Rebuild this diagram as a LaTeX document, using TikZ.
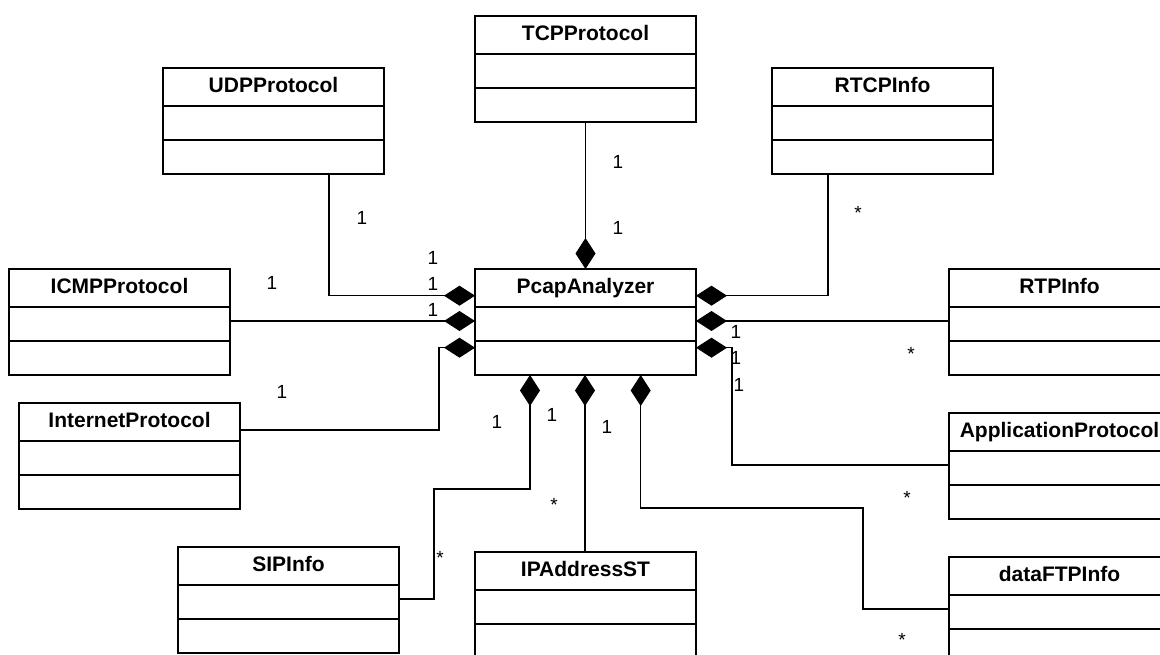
\documentclass[tikz,border=0pt]{standalone}
\usepackage{fontspec}
\setmainfont{Liberation Sans}
\usetikzlibrary{arrows.meta,calc}

\tikzset{
  classbox/.style={draw, line width=1.6pt, minimum width=221pt, minimum height=106pt,
                   inner sep=0pt, outer sep=0pt},
  classtitle/.style={minimum height=38pt, inner sep=0pt, text height=15pt, text depth=4pt,
                     font=\fontsize{21}{24}\selectfont\bfseries},
  classrule/.style={line width=1.6pt},
  comp/.style={line width=1.1pt, -{Diamond[length=31pt,width=20pt]}},
  mult/.style={inner sep=0pt, font=\fontsize{19}{22}\selectfont},
}

% UML class box: name, left x, top y, title; two empty compartments below the title
\newcommand\umlclass[4]{%
  \node[classbox, anchor=north west] (#1) at (#2,#3) {};
  \node[classtitle, anchor=north] (#1-t) at (#1.north) {#4};
  \draw[classrule] ($(#1.north west)+(0,38)$) -- ($(#1.north east)+(0,38)$);
  \draw[classrule] ($(#1.north west)+(0,72)$) -- ($(#1.north east)+(0,72)$);
}

\begin{document}
\begin{tikzpicture}[x=1pt, y=-1pt]
\useasboundingbox (0,0) rectangle (1160,655);
\clip (0,0) rectangle (1160,655);

% classes
\umlclass{tcp}{475}{16}{TCPProtocol}
\umlclass{udp}{163}{68}{UDPProtocol}
\umlclass{rtcp}{772}{68}{RTCPInfo}
\umlclass{icmp}{9}{269}{ICMPProtocol}
\umlclass{pcap}{475}{269}{PcapAnalyzer}
\umlclass{rtp}{949}{269}{RTPInfo}
\umlclass{inet}{19}{403}{InternetProtocol}
\umlclass{app}{949}{413}{ApplicationProtocol}
\umlclass{sip}{178}{547}{SIPInfo}
\umlclass{ipa}{475}{552}{IPAddressST}
\umlclass{ftp}{949}{557}{dataFTPInfo}

% attachment points on PcapAnalyzer
\coordinate (pL1) at ($(pcap.north west)+(0,26.7)$);
\coordinate (pL2) at ($(pcap.north west)+(0,52)$);
\coordinate (pL3) at ($(pcap.north west)+(0,78.7)$);
\coordinate (pR1) at ($(pcap.north east)+(0,26.7)$);
\coordinate (pR2) at ($(pcap.north east)+(0,52)$);
\coordinate (pR3) at ($(pcap.north east)+(0,78.7)$);
\coordinate (pB1) at ($(pcap.south west)+(55,0)$);
\coordinate (pB2) at ($(pcap.south west)+(110,0)$);
\coordinate (pB3) at ($(pcap.south west)+(165.7,0)$);
\coordinate (sipBend) at (434,489);
\coordinate (ftpBend) at (863,508);

% compositions
\draw[comp] ($(udp.south west)+(166,0)$) |- (pL1);
\draw[comp] (icmp.east |- pL2) -- (pL2);
\draw[comp] ($(inet.north east)+(0,27)$) -| ($(pL3)+(-36,0)$) -- (pL3);
\draw[comp] (tcp.south) -- (pcap.north);
\draw[comp] ($(rtcp.south west)+(56,0)$) |- (pR1);
\draw[comp] (rtp.west |- pR2) -- (pR2);
\draw[comp] ($(app.north west)+(0,52)$) -| ($(pR3)+(36,0)$) -- (pR3);
\draw[comp] ($(sip.north east)+(0,52)$) -| (sipBend) -| (pB1);
\draw[comp] (pB2 |- ipa.north) -- (pB2);
\draw[comp] ($(ftp.north west)+(0,52)$) -| (ftpBend) -| (pB3);

% multiplicities
\node[mult] (m1) at (362,218) {1};
\node[mult] (m2) at (433,258) {1};
\node[mult] (m3) at (433,284) {1};
\node[mult] (m4) at (433,310) {1};
\node[mult] (m5) at (272,283) {1};
\node[mult] (m6) at (282,392) {1};
\node[mult] (m7) at (618,162) {1};
\node[mult] (m8) at (618,228) {1};
\node[mult] (m9) at (858,213) {*};
\node[mult] (m10) at (736,332) {1};
\node[mult] (m11) at (736,358) {1};
\node[mult] (m12) at (739,385) {1};
\node[mult] (m13) at (911,354) {*};
\node[mult] (m14) at (907,498) {*};
\node[mult] (m15) at (902,640) {*};
\node[mult] (m16) at (497,422) {1};
\node[mult] (m17) at (552,415) {1};
\node[mult] (m18) at (607,427) {1};
\node[mult] (m19) at (554,505) {*};
\node[mult] (m20) at (440,558) {*};
\end{tikzpicture}
\end{document}
